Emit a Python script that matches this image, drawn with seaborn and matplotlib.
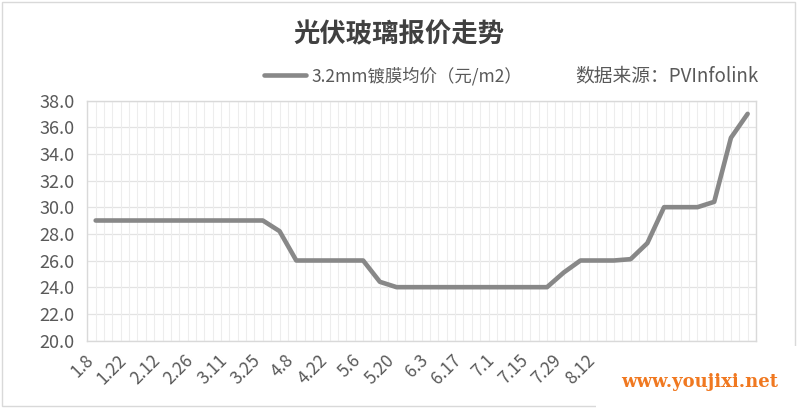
import numpy as np
import pandas as pd
import matplotlib
matplotlib.use("Agg")
import matplotlib.pyplot as plt
import matplotlib.transforms as mtransforms
from matplotlib.patches import Rectangle
import seaborn as sns

# weekly quote dates (every other one is shown on the axis)
dates = ["1.8", "1.15", "1.22", "2.5", "2.12", "2.19", "2.26", "3.4", "3.11", "3.18",
         "3.25", "4.1", "4.8", "4.15", "4.22", "4.29", "5.6", "5.13", "5.20", "5.27",
         "6.3", "6.10", "6.17", "6.24", "7.1", "7.8", "7.15", "7.22", "7.29", "8.5",
         "8.12", "8.19", "8.26", "9.2", "9.9", "9.16", "9.23", "9.30", "10.14", "10.21"]
# 3.2mm coated glass average price, yuan/m2
prices = [29.0, 29.0, 29.0, 29.0, 29.0, 29.0, 29.0, 29.0, 29.0, 29.0,
          29.0, 28.2, 26.0, 26.0, 26.0, 26.0, 26.0, 24.4, 24.0, 24.0,
          24.0, 24.0, 24.0, 24.0, 24.0, 24.0, 24.0, 24.0, 25.1, 26.0,
          26.0, 26.0, 26.1, 27.3, 30.0, 30.0, 30.0, 30.4, 35.2, 37.0]
yticks = [20, 22, 24, 26, 28, 30, 32, 34, 36, 38]

title = "光伏玻璃报价走势"
series_name = "3.2mm镀膜均价（元/m2）"
source = "数据来源：PVInfolink"

df = pd.DataFrame({"idx": np.arange(len(dates)), "price": prices})

sns.set_theme(style="white")
plt.rcParams["font.family"] = ["Noto Sans CJK SC", "DejaVu Sans"]

W, H = 800, 419
fig = plt.figure(figsize=(W / 100, H / 100), dpi=100)

def px(x0, y0, x1, y1):
    # pixel box (top-left origin) -> figure fraction
    return [x0 / W, 1 - y1 / H, (x1 - x0) / W, (y1 - y0) / H]

# outer chart border
fig.patches.append(Rectangle((2 / W, 1 - 406 / H), 793 / W, 404 / H, transform=fig.transFigure,
                             fill=False, edgecolor="#D9D9D9", linewidth=1.0))

ax = fig.add_axes(px(87.3, 100.5, 756, 340.5))
grey = "#595959"

sns.lineplot(data=df, x="idx", y="price", ax=ax, color="#888888", linewidth=3.3,
             label=series_name, solid_capstyle="round", solid_joinstyle="round")

n = len(dates)
ax.set_xlim(-0.5, n - 0.5)
ax.set_ylim(20, 38)
ax.set_yticks(yticks)
ax.set_yticklabels([f"{v:.1f}" for v in yticks], color=grey, fontsize=13)
ax.set_xticks(np.arange(n))
ax.set_xticklabels([d if i % 2 == 0 else "" for i, d in enumerate(dates)],
                   rotation=45, ha="right", va="center", rotation_mode="anchor",
                   color=grey, fontsize=12.5)
ax.tick_params(axis="x", length=0, pad=11)
ax.tick_params(axis="y", length=0, pad=9)
shift = mtransforms.ScaledTranslation(-5 / 100, -2 / 100, fig.dpi_scale_trans)
for lab in ax.get_xticklabels():
    lab.set_transform(lab.get_transform() + shift)
ax.set_xlabel("")
ax.set_ylabel("")

# gridlines: horizontal at each tick, vertical at category centres and edges
for v in yticks:
    ax.axhline(v, color="#E3E3E3", linewidth=0.9, zorder=0)
for xv in np.arange(-0.5, n, 0.5):
    ax.axvline(xv, color="#EDEDED", linewidth=0.8, zorder=0)
for s in ax.spines.values():
    s.set_color("#D9D9D9")
    s.set_linewidth(1.0)

leg = ax.legend(loc="center", bbox_to_anchor=(393 / W, 1 - 76 / H), bbox_transform=fig.transFigure,
                frameon=False, handlelength=2.4, handletextpad=0.3, fontsize=12.5, labelcolor=grey)

fig.text(399 / W, 1 - 35 / H, title, ha="center", va="center", fontsize=19,
         fontweight="bold", color="#404040")
fig.text(667 / W, 1 - 76 / H, source, ha="center", va="center", fontsize=13.5, color=grey)

# watermark patch in the lower right corner
fig.patches.append(Rectangle((596 / W, 0), 204 / W, 1 - 346 / H, transform=fig.transFigure,
                             facecolor="white", edgecolor="none", zorder=5))
fig.text(700 / W, 1 - 382 / H, "www.youjixi.net", ha="center", va="center", fontsize=13,
         fontweight="bold", family="DejaVu Serif", color="#F07820", zorder=6)

fig.savefig("out.png", dpi=100)
